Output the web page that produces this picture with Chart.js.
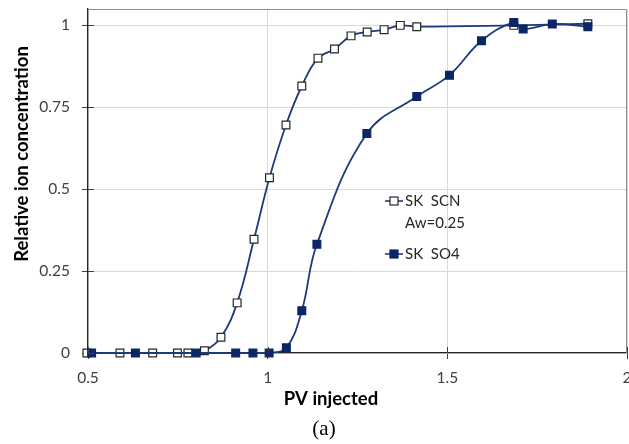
<!DOCTYPE html>
<html>
<head>
<meta charset="utf-8">
<script src="https://cdn.jsdelivr.net/npm/chart.js@4.4.1/dist/chart.umd.min.js"></script>
<style>
  html, body { margin: 0; padding: 0; background: #fff; }
  #wrap { width: 629px; height: 444px; }
</style>
</head>
<body>
<div id="wrap"><canvas id="chart" width="629" height="444"></canvas></div>
<script>
// values
const scnX = [0.497, 0.589, 0.680, 0.749, 0.778, 0.824, 0.870, 0.915, 0.962, 1.005, 1.051, 1.095, 1.140, 1.186, 1.232, 1.277, 1.324, 1.369, 1.415, 1.685, 1.891];
const scnY = [0, 0, 0, 0, 0, 0.007, 0.048, 0.153, 0.347, 0.535, 0.696, 0.815, 0.900, 0.928, 0.968, 0.980, 0.987, 1.000, 0.996, 1.000, 1.005];
const so4X = [0.510, 0.632, 0.801, 0.911, 0.959, 1.004, 1.052, 1.095, 1.137, 1.276, 1.415, 1.506, 1.595, 1.685, 1.711, 1.792, 1.891];
const so4Y = [0, 0, 0, 0, 0, 0, 0.016, 0.129, 0.332, 0.670, 0.783, 0.848, 0.953, 1.009, 0.989, 1.004, 0.996];

const xTicks = [0.5, 1, 1.5, 2];
const yTicks = [0, 0.25, 0.5, 0.75, 1];
const seriesNames = ['SK  SCN', 'SK  SO4'];
const scnNote = 'Aw=0.25';
const xTitle = 'PV injected';
const yTitle = 'Relative ion concentration';
const caption = '(a)';

const lineColor = '#1d3a7c';
const navy = '#0b2566';
const font = 'Lato, "Open Sans", sans-serif';

function pts(xs, ys) {
  return xs.map((x, i) => ({ x: x, y: ys[i] }));
}

// no extra room for labels that hang over the plot edge
function noPadding(s) {
  s.paddingLeft = s.paddingRight = s.paddingTop = s.paddingBottom = 0;
}

// frame, inner tick halves, titles, legend
const decor = {
  id: 'decor',
  afterDraw(chart) {
    const ctx = chart.ctx;
    const a = chart.chartArea;
    const sx = chart.scales.x, sy = chart.scales.y;
    ctx.save();

    ctx.strokeStyle = '#8c8c8c';
    ctx.lineWidth = 1;
    ctx.beginPath();
    ctx.moveTo(a.left, a.top + 0.5);
    ctx.lineTo(a.right - 0.5, a.top + 0.5);
    ctx.lineTo(a.right - 0.5, a.bottom);
    ctx.stroke();

    ctx.strokeStyle = '#404040';
    ctx.beginPath();
    xTicks.forEach(v => {
      const px = Math.round(sx.getPixelForValue(v)) + 0.5;
      ctx.moveTo(px, a.bottom - 6);
      ctx.lineTo(px, a.bottom);
    });
    yTicks.forEach(v => {
      const py = Math.round(sy.getPixelForValue(v)) + 0.5;
      ctx.moveTo(a.left, py);
      ctx.lineTo(a.left + 6, py);
    });
    ctx.stroke();

    // axis titles
    ctx.fillStyle = '#000';
    ctx.font = 'bold 18.5px ' + font;
    ctx.textAlign = 'center';
    ctx.textBaseline = 'middle';
    ctx.fillText(xTitle, 331, 399);
    ctx.save();
    ctx.translate(22, 154);
    ctx.rotate(-Math.PI / 2);
    ctx.fillText(yTitle, 0, 0);
    ctx.restore();

    // caption
    ctx.font = '21px "Liberation Serif", "DejaVu Serif", serif';
    ctx.fillText(caption, 324, 429);

    // legend
    const ds = chart.data.datasets;
    const rows = [
      { d: ds[0], y: 201, text: [seriesNames[0], scnNote] },
      { d: ds[1], y: 254, text: [seriesNames[1]] }
    ];
    rows.forEach(r => {
      ctx.strokeStyle = r.d.borderColor;
      ctx.lineWidth = 1.6;
      ctx.beginPath();
      ctx.moveTo(385, r.y);
      ctx.lineTo(403, r.y);
      ctx.stroke();
      ctx.fillStyle = r.d.pointBackgroundColor;
      ctx.strokeStyle = r.d.pointBorderColor;
      ctx.lineWidth = r.d.pointBorderWidth;
      ctx.fillRect(390, r.y - 4, 8, 8);
      ctx.strokeRect(390, r.y - 4, 8, 8);
      ctx.fillStyle = '#262626';
      ctx.font = '15px ' + font;
      ctx.textAlign = 'left';
      r.text.forEach((t, i) => ctx.fillText(t, 405, r.y + i * 22));
    });

    ctx.restore();
  }
};

new Chart(document.getElementById('chart'), {
  type: 'line',
  data: {
    datasets: [
      {
        label: seriesNames[0],
        data: pts(scnX, scnY),
        borderColor: lineColor,
        borderWidth: 1.8,
        tension: 0.4,
        pointStyle: 'rect',
        pointRadius: 5.5,
        pointBackgroundColor: '#ffffff',
        pointBorderColor: '#262626',
        pointBorderWidth: 1.2,
        clip: false,
        order: 2
      },
      {
        label: seriesNames[1],
        data: pts(so4X, so4Y),
        borderColor: lineColor,
        borderWidth: 1.8,
        tension: 0.4,
        pointStyle: 'rect',
        pointRadius: 5.5,
        pointBackgroundColor: navy,
        pointBorderColor: navy,
        pointBorderWidth: 1.2,
        clip: false,
        order: 1
      }
    ]
  },
  options: {
    responsive: false,
    animation: false,
    devicePixelRatio: 1,
    layout: { autoPadding: false, padding: { left: 0, right: 2, top: 9, bottom: 0 } },
    plugins: {
      legend: { display: false },
      tooltip: { enabled: false }
    },
    scales: {
      x: {
        type: 'linear',
        min: 0.5,
        max: 2,
        afterBuildTicks: s => { s.ticks = xTicks.map(v => ({ value: v })); },
        afterFit: s => { s.height = 91; noPadding(s); },
        ticks: {
          color: '#404040',
          font: { family: font, size: 15.5 },
          padding: 10,
          maxRotation: 0,
          callback: v => String(v)
        },
        grid: { color: '#d9d9d9', lineWidth: 1, tickLength: 6, tickColor: '#404040' },
        border: { color: '#262626', width: 1.3 }
      },
      y: {
        type: 'linear',
        min: 0,
        max: 1.05,
        afterBuildTicks: s => { s.ticks = yTicks.map(v => ({ value: v })); },
        afterFit: s => { s.width = 88; noPadding(s); },
        ticks: {
          color: '#404040',
          font: { family: font, size: 15.5 },
          padding: 12,
          callback: v => String(v)
        },
        grid: { color: '#d9d9d9', lineWidth: 1, tickLength: 6, tickColor: '#404040' },
        border: { color: '#262626', width: 1.3 }
      }
    }
  },
  plugins: [decor]
});
</script>
</body>
</html>
